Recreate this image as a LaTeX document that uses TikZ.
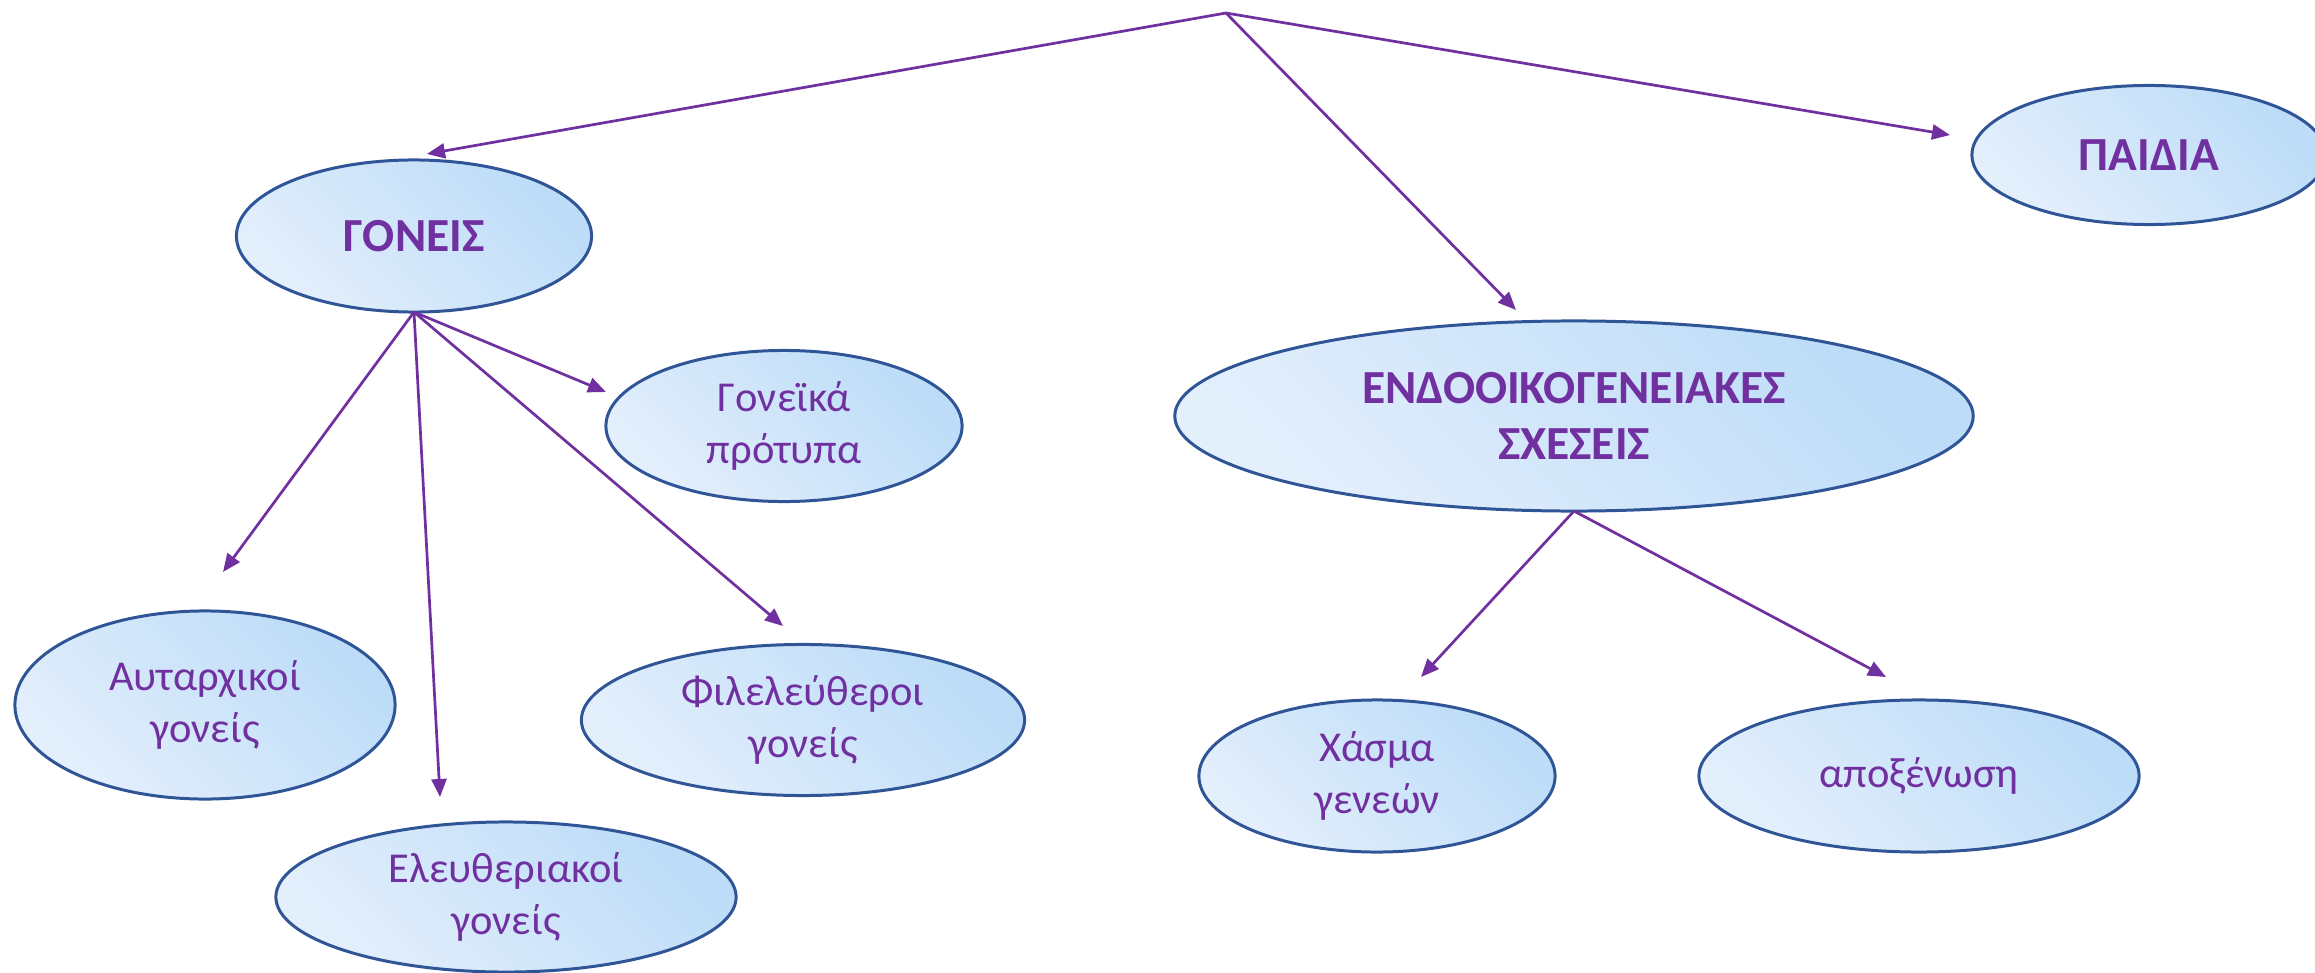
\documentclass[tikz,border=0pt]{standalone}
\usepackage{fontspec}
\setmainfont{Carlito}
\usetikzlibrary{shapes.geometric,arrows.meta}
\definecolor{txtpurple}{HTML}{7030A0}
\definecolor{rimblue}{HTML}{2F5597}
\definecolor{filldark}{HTML}{BCDCF8}
\definecolor{filllight}{HTML}{E4EFFC}

\begin{document}
\begin{tikzpicture}[x=0.01cm, y=-0.01cm,
        bubble/.style={ellipse, draw=rimblue, line width=0.85pt, inner sep=0pt, outer sep=0pt,
            top color=filldark, bottom color=filllight, shading angle=-45,
            text=txtpurple, align=center, font=\fontsize{12.1}{14.6}\selectfont},
        headbubble/.style={bubble, font=\fontsize{13.5}{16}\selectfont\bfseries},
        arr/.style={draw=txtpurple, line width=0.77pt, -{Triangle[length=0.18cm, width=0.15cm]}}]
        \useasboundingbox (0,0) rectangle (2315,973);

        \node[headbubble, minimum width=3.55cm, minimum height=1.52cm] (goneis) at (414,236) {ΓΟΝΕΙΣ};
        \node[headbubble, minimum width=3.54cm, minimum height=1.39cm] (paidia) at (2149,155) {ΠΑΙΔΙΑ};
        \node[headbubble, minimum width=7.98cm, minimum height=1.90cm] (endo) at (1574,416) {ΕΝΔΟΟΙΚΟΓΕΝΕΙΑΚΕΣ\\ΣΧΕΣΕΙΣ};

        \node[bubble, minimum width=3.56cm, minimum height=1.51cm] (protypa) at (784,426) {Γονεϊκά\\πρότυπα};
        \node[bubble, minimum width=3.80cm, minimum height=1.88cm] (autarx) at (205,705) {Αυταρχικοί\\γονείς};
        \node[bubble, minimum width=4.60cm, minimum height=1.50cm] (eleuth) at (506,897) {Ελευθεριακοί\\γονείς};
        \node[bubble, minimum width=4.43cm, minimum height=1.51cm] (fileleu) at (803,720) {Φιλελεύθεροι\\γονείς};
        \node[bubble, minimum width=3.56cm, minimum height=1.52cm] (xasma) at (1377,776) {Χάσμα\\γενεών};
        \node[bubble, minimum width=4.40cm, minimum height=1.52cm] (apox) at (1919,776) {αποξένωση};

        % free ends of the arrows
        \coordinate (root) at (1226,13);
        \coordinate (t-goneis) at (427,154);
        \coordinate (t-endo) at (1516,310);
        \coordinate (t-paidia) at (1950,135);
        \coordinate (t-protypa) at (606,392);
        \coordinate (t-autarx) at (223,572);
        \coordinate (t-eleuth) at (440,797);
        \coordinate (t-fileleu) at (783,626);
        \coordinate (t-xasma) at (1421,677);
        \coordinate (t-apox) at (1886,677);

        \foreach \t in {goneis, endo, paidia}
            \draw[arr] (root) -- (t-\t);
        \foreach \t in {protypa, autarx, eleuth, fileleu}
            \draw[arr] (goneis.south) -- (t-\t);
        \foreach \t in {xasma, apox}
            \draw[arr] (endo.south) -- (t-\t);
    \end{tikzpicture}
\end{document}
